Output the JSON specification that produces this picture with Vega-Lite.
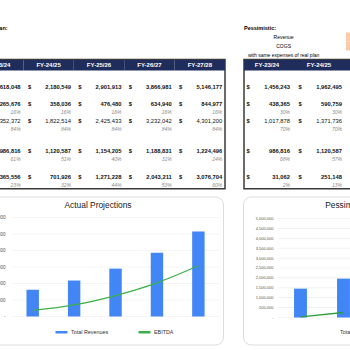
{
  "$schema": "https://vega.github.io/schema/vega-lite/v6.json",
  "padding": {"left": -28, "top": 23.5, "right": -140, "bottom": 0},
  "background": "white",
  "config": {"font": "Liberation Sans", "view": {"stroke": null}},
  "datasets": {
    "actual": [
      {"year": "FY-23/24", "metric": "H", "kind": "header"},
      {"year": "FY-24/25", "metric": "H", "kind": "header"},
      {"year": "FY-25/26", "metric": "H", "kind": "header"},
      {"year": "FY-26/27", "metric": "H", "kind": "header"},
      {"year": "FY-27/28", "metric": "H", "kind": "header"},
      {"year": "FY-23/24", "metric": "Revenue", "kind": "amount", "value": 1618048},
      {"year": "FY-23/24", "metric": "COGS", "kind": "amount", "value": 265676},
      {"year": "FY-23/24", "metric": "COGS %", "kind": "pct", "value": 0.16},
      {"year": "FY-23/24", "metric": "Gross Profit", "kind": "amount", "value": 1352372},
      {"year": "FY-23/24", "metric": "Gross %", "kind": "pct", "value": 0.84},
      {"year": "FY-23/24", "metric": "Operating Expenses", "kind": "amount", "value": 986816},
      {"year": "FY-23/24", "metric": "Operating Expenses %", "kind": "pct", "value": 0.61},
      {"year": "FY-23/24", "metric": "EBITDA", "kind": "amount", "value": 365556},
      {"year": "FY-23/24", "metric": "EBITDA %", "kind": "pct", "value": 0.23},
      {"year": "FY-24/25", "metric": "Revenue", "kind": "amount", "value": 2180549},
      {"year": "FY-24/25", "metric": "COGS", "kind": "amount", "value": 358036},
      {"year": "FY-24/25", "metric": "COGS %", "kind": "pct", "value": 0.16},
      {"year": "FY-24/25", "metric": "Gross Profit", "kind": "amount", "value": 1822514},
      {"year": "FY-24/25", "metric": "Gross %", "kind": "pct", "value": 0.84},
      {"year": "FY-24/25", "metric": "Operating Expenses", "kind": "amount", "value": 1120587},
      {"year": "FY-24/25", "metric": "Operating Expenses %", "kind": "pct", "value": 0.51},
      {"year": "FY-24/25", "metric": "EBITDA", "kind": "amount", "value": 701926},
      {"year": "FY-24/25", "metric": "EBITDA %", "kind": "pct", "value": 0.32},
      {"year": "FY-25/26", "metric": "Revenue", "kind": "amount", "value": 2901913},
      {"year": "FY-25/26", "metric": "COGS", "kind": "amount", "value": 476480},
      {"year": "FY-25/26", "metric": "COGS %", "kind": "pct", "value": 0.16},
      {"year": "FY-25/26", "metric": "Gross Profit", "kind": "amount", "value": 2425433},
      {"year": "FY-25/26", "metric": "Gross %", "kind": "pct", "value": 0.84},
      {"year": "FY-25/26", "metric": "Operating Expenses", "kind": "amount", "value": 1154205},
      {"year": "FY-25/26", "metric": "Operating Expenses %", "kind": "pct", "value": 0.40},
      {"year": "FY-25/26", "metric": "EBITDA", "kind": "amount", "value": 1271228},
      {"year": "FY-25/26", "metric": "EBITDA %", "kind": "pct", "value": 0.44},
      {"year": "FY-26/27", "metric": "Revenue", "kind": "amount", "value": 3866981},
      {"year": "FY-26/27", "metric": "COGS", "kind": "amount", "value": 634940},
      {"year": "FY-26/27", "metric": "COGS %", "kind": "pct", "value": 0.16},
      {"year": "FY-26/27", "metric": "Gross Profit", "kind": "amount", "value": 3232042},
      {"year": "FY-26/27", "metric": "Gross %", "kind": "pct", "value": 0.84},
      {"year": "FY-26/27", "metric": "Operating Expenses", "kind": "amount", "value": 1188831},
      {"year": "FY-26/27", "metric": "Operating Expenses %", "kind": "pct", "value": 0.31},
      {"year": "FY-26/27", "metric": "EBITDA", "kind": "amount", "value": 2043211},
      {"year": "FY-26/27", "metric": "EBITDA %", "kind": "pct", "value": 0.53},
      {"year": "FY-27/28", "metric": "Revenue", "kind": "amount", "value": 5146177},
      {"year": "FY-27/28", "metric": "COGS", "kind": "amount", "value": 844977},
      {"year": "FY-27/28", "metric": "COGS %", "kind": "pct", "value": 0.16},
      {"year": "FY-27/28", "metric": "Gross Profit", "kind": "amount", "value": 4301200},
      {"year": "FY-27/28", "metric": "Gross %", "kind": "pct", "value": 0.84},
      {"year": "FY-27/28", "metric": "Operating Expenses", "kind": "amount", "value": 1224496},
      {"year": "FY-27/28", "metric": "Operating Expenses %", "kind": "pct", "value": 0.24},
      {"year": "FY-27/28", "metric": "EBITDA", "kind": "amount", "value": 3076704},
      {"year": "FY-27/28", "metric": "EBITDA %", "kind": "pct", "value": 0.60}
    ],
    "pessimistic": [
      {"year": "FY-23/24", "metric": "H", "kind": "header"},
      {"year": "FY-24/25", "metric": "H", "kind": "header"},
      {"year": "FY-25/26", "metric": "H", "kind": "header"},
      {"year": "FY-23/24", "metric": "Revenue", "kind": "amount", "value": 1456243},
      {"year": "FY-23/24", "metric": "COGS", "kind": "amount", "value": 438365},
      {"year": "FY-23/24", "metric": "COGS %", "kind": "pct", "value": 0.30},
      {"year": "FY-23/24", "metric": "Gross Profit", "kind": "amount", "value": 1017878},
      {"year": "FY-23/24", "metric": "Gross %", "kind": "pct", "value": 0.70},
      {"year": "FY-23/24", "metric": "Operating Expenses", "kind": "amount", "value": 986816},
      {"year": "FY-23/24", "metric": "Operating Expenses %", "kind": "pct", "value": 0.68},
      {"year": "FY-23/24", "metric": "EBITDA", "kind": "amount", "value": 31062},
      {"year": "FY-23/24", "metric": "EBITDA %", "kind": "pct", "value": 0.02},
      {"year": "FY-24/25", "metric": "Revenue", "kind": "amount", "value": 1962495},
      {"year": "FY-24/25", "metric": "COGS", "kind": "amount", "value": 590759},
      {"year": "FY-24/25", "metric": "COGS %", "kind": "pct", "value": 0.30},
      {"year": "FY-24/25", "metric": "Gross Profit", "kind": "amount", "value": 1371736},
      {"year": "FY-24/25", "metric": "Gross %", "kind": "pct", "value": 0.70},
      {"year": "FY-24/25", "metric": "Operating Expenses", "kind": "amount", "value": 1120587},
      {"year": "FY-24/25", "metric": "Operating Expenses %", "kind": "pct", "value": 0.57},
      {"year": "FY-24/25", "metric": "EBITDA", "kind": "amount", "value": 251148},
      {"year": "FY-24/25", "metric": "EBITDA %", "kind": "pct", "value": 0.13}
    ],
    "notesLeft": [
      {"label": "Real Plan:", "line": "L1", "year": "FY-23/24", "role": "title"}
    ],
    "notesRight": [
      {"label": "Pessimistic:", "line": "L1", "year": "FY-23/24", "role": "title"},
      {"label": "Revenue", "line": "L2", "year": "FY-23/24", "role": "note"},
      {"label": "COGS", "line": "L3", "year": "FY-23/24", "role": "note"},
      {"label": "with same expenses of real plan", "line": "L4", "year": "FY-23/24", "role": "note"},
      {"label": "", "line": "L2", "year": "FY-25/26", "role": "highlight"},
      {"label": "", "line": "L3", "year": "FY-25/26", "role": "highlight"}
    ],
    "gridActual": [{"value": 0}, {"value": 1000000}, {"value": 2000000}, {"value": 3000000}, {"value": 4000000}, {"value": 5000000}, {"value": 6000000}],
    "gridPess": [{"value": 0}, {"value": 500000}, {"value": 1000000}, {"value": 1500000}, {"value": 2000000}, {"value": 2500000}, {"value": 3000000}, {"value": 3500000}, {"value": 4000000}, {"value": 4500000}, {"value": 5000000}]
  },
  "resolve": {"scale": {"x": "independent", "y": "independent"}, "legend": {"color": "independent"}},
  "spacing": 5,
  "vconcat": [
    {
      "spacing": -2.8,
      "resolve": {"scale": {"x": "independent", "y": "independent"}},
      "vconcat": [
        {
          "spacing": 17,
          "resolve": {"scale": {"x": "independent", "y": "independent"}},
          "hconcat": [
            {
              "width": 252, "height": 36,
              "data": {"name": "notesLeft"},
              "mark": {"type": "text", "align": "left", "baseline": "middle", "fontWeight": "bold", "fontSize": 5.5, "dx": 8, "color": "#000"},
              "encoding": {
                "x": {"field": "year", "type": "nominal", "bandPosition": 0, "scale": {"type": "band", "domain": ["FY-23/24", "FY-24/25", "FY-25/26", "FY-26/27", "FY-27/28"], "paddingInner": 0, "paddingOuter": 0}, "axis": null},
                "y": {"field": "line", "type": "nominal", "scale": {"type": "band", "domain": ["L1", "L2", "L3", "L4"], "paddingInner": 0, "paddingOuter": 0}, "axis": null},
                "text": {"field": "label"}
              }
            },
            {
              "width": 156, "height": 36,
              "data": {"name": "notesRight"},
              "encoding": {
                "x": {"field": "year", "type": "nominal", "scale": {"type": "band", "domain": ["FY-23/24", "FY-24/25", "FY-25/26"], "paddingInner": 0, "paddingOuter": 0}, "axis": null},
                "y": {"field": "line", "type": "nominal", "scale": {"type": "band", "domain": ["L1", "L2", "L3", "L4"], "paddingInner": 0, "paddingOuter": 0}, "axis": null}
              },
              "layer": [
                {"transform": [{"filter": "datum.role == 'highlight'"}], "mark": {"type": "rect", "color": "#F8CBAD"}},
                {"transform": [{"filter": "datum.role == 'title'"}], "mark": {"type": "text", "align": "left", "baseline": "middle", "fontWeight": "bold", "fontSize": 5.5, "dx": 2, "color": "#000"},
                 "encoding": {"x": {"field": "year", "type": "nominal", "bandPosition": 0, "scale": {"type": "band"}, "axis": null}, "text": {"field": "label"}}},
                {"transform": [{"filter": "datum.role == 'note'"}], "mark": {"type": "text", "align": "center", "baseline": "middle", "fontSize": 5, "color": "#000"},
                 "encoding": {"x": {"field": "year", "type": "nominal", "bandPosition": 0.8, "scale": {"type": "band"}, "axis": null}, "text": {"field": "label"}}}
              ]
            }
          ]
        },
        {
          "spacing": 17,
          "resolve": {"scale": {"x": "independent", "y": "independent"}},
          "hconcat": [
            {
              "width": 252, "height": 129.3,
              "view": {"stroke": "#3a3a3a", "strokeWidth": 1.5},
              "data": {"name": "actual"},
              "encoding": {
                "x": {"field": "year", "type": "nominal", "scale": {"type": "band", "domain": ["FY-23/24", "FY-24/25", "FY-25/26", "FY-26/27", "FY-27/28"], "paddingInner": 0, "paddingOuter": 0}, "axis": null},
                "y": {"field": "metric", "type": "nominal", "scale": {"type": "band", "domain": ["H", "s1", "s2", "s3", "s4", "Revenue", "s6", "s7", "s8", "COGS", "s10", "COGS %", "s12", "Gross Profit", "s14", "Gross %", "s16", "s17", "s18", "s19", "Operating Expenses", "s21", "Operating Expenses %", "s23", "s24", "s25", "EBITDA", "s27", "EBITDA %"], "paddingInner": 0, "paddingOuter": 0.6, "align": 0.7}, "axis": null}
              },
              "layer": [
                {"transform": [{"filter": "datum.kind == 'header'"}], "mark": {"type": "rect", "color": "#1F2D5C", "height": {"band": 2.5}}},
                {"transform": [{"filter": "datum.kind == 'header'"}], "mark": {"type": "text", "color": "white", "fontWeight": "bold", "fontSize": 6, "baseline": "middle"}, "encoding": {"text": {"field": "year"}}},
                {"transform": [{"filter": "datum.kind == 'amount'"}], "mark": {"type": "text", "align": "left", "baseline": "middle", "dx": 4.5, "fontWeight": "bold", "fontSize": 5.8, "color": "#111"},
                 "encoding": {"x": {"field": "year", "type": "nominal", "bandPosition": 0, "scale": {"type": "band"}, "axis": null}, "text": {"value": "$"}}},
                {"transform": [{"filter": "datum.kind == 'amount' && datum.metric != 'Gross Profit'"}], "mark": {"type": "text", "align": "right", "baseline": "middle", "dx": -2.8, "fontWeight": "bold", "fontSize": 5.8, "color": "#111"},
                 "encoding": {"x": {"field": "year", "type": "nominal", "bandPosition": 1, "scale": {"type": "band"}, "axis": null}, "text": {"field": "value", "type": "quantitative", "format": ",.0f"}}},
                {"transform": [{"filter": "datum.metric == 'Gross Profit'"}], "mark": {"type": "text", "align": "right", "baseline": "middle", "dx": -2.8, "fontSize": 5.8, "color": "#111"},
                 "encoding": {"x": {"field": "year", "type": "nominal", "bandPosition": 1, "scale": {"type": "band"}, "axis": null}, "text": {"field": "value", "type": "quantitative", "format": ",.0f"}}},
                {"transform": [{"filter": "datum.kind == 'pct'"}], "mark": {"type": "text", "align": "right", "baseline": "middle", "dx": -2.8, "fontSize": 5, "fontStyle": "italic", "color": "#8c8c8c"},
                 "encoding": {"x": {"field": "year", "type": "nominal", "bandPosition": 1, "scale": {"type": "band"}, "axis": null}, "text": {"field": "value", "type": "quantitative", "format": ".0%"}}}
              ]
            },
            {
              "width": 156, "height": 129.3,
              "view": {"stroke": "#3a3a3a", "strokeWidth": 1.5},
              "data": {"name": "pessimistic"},
              "encoding": {
                "x": {"field": "year", "type": "nominal", "scale": {"type": "band", "domain": ["FY-23/24", "FY-24/25", "FY-25/26"], "paddingInner": 0, "paddingOuter": 0}, "axis": null},
                "y": {"field": "metric", "type": "nominal", "scale": {"type": "band", "domain": ["H", "s1", "s2", "s3", "s4", "Revenue", "s6", "s7", "s8", "COGS", "s10", "COGS %", "s12", "Gross Profit", "s14", "Gross %", "s16", "s17", "s18", "s19", "Operating Expenses", "s21", "Operating Expenses %", "s23", "s24", "s25", "EBITDA", "s27", "EBITDA %"], "paddingInner": 0, "paddingOuter": 0.6, "align": 0.7}, "axis": null}
              },
              "layer": [
                {"transform": [{"filter": "datum.kind == 'header'"}], "mark": {"type": "rect", "color": "#1F2D5C", "height": {"band": 2.5}}},
                {"transform": [{"filter": "datum.kind == 'header'"}], "mark": {"type": "text", "color": "white", "fontWeight": "bold", "fontSize": 6, "baseline": "middle", "dx": -3}, "encoding": {"text": {"field": "year"}}},
                {"transform": [{"filter": "datum.kind == 'amount'"}], "mark": {"type": "text", "align": "left", "baseline": "middle", "dx": 2.5, "fontWeight": "bold", "fontSize": 5.8, "color": "#111"},
                 "encoding": {"x": {"field": "year", "type": "nominal", "bandPosition": 0, "scale": {"type": "band"}, "axis": null}, "text": {"value": "$"}}},
                {"transform": [{"filter": "datum.kind == 'amount' && datum.metric != 'Gross Profit'"}], "mark": {"type": "text", "align": "right", "baseline": "middle", "dx": -6, "fontWeight": "bold", "fontSize": 5.8, "color": "#111"},
                 "encoding": {"x": {"field": "year", "type": "nominal", "bandPosition": 1, "scale": {"type": "band"}, "axis": null}, "text": {"field": "value", "type": "quantitative", "format": ",.0f"}}},
                {"transform": [{"filter": "datum.metric == 'Gross Profit'"}], "mark": {"type": "text", "align": "right", "baseline": "middle", "dx": -6, "fontSize": 5.8, "color": "#111"},
                 "encoding": {"x": {"field": "year", "type": "nominal", "bandPosition": 1, "scale": {"type": "band"}, "axis": null}, "text": {"field": "value", "type": "quantitative", "format": ",.0f"}}},
                {"transform": [{"filter": "datum.kind == 'pct'"}], "mark": {"type": "text", "align": "right", "baseline": "middle", "dx": -6, "fontSize": 5, "fontStyle": "italic", "color": "#8c8c8c"},
                 "encoding": {"x": {"field": "year", "type": "nominal", "bandPosition": 1, "scale": {"type": "band"}, "axis": null}, "text": {"field": "value", "type": "quantitative", "format": ".0%"}}}
              ]
            }
          ]
        }
      ]
    },
    {
      "spacing": 18,
      "resolve": {"scale": {"x": "independent", "y": "independent"}, "legend": {"color": "independent"}},
      "hconcat": [
        {
          "width": 250, "height": 148,
          "view": {"stroke": "#dadce0", "strokeWidth": 1, "cornerRadius": 8, "fill": "white"},
          "title": {"text": "Actual Projections", "fontSize": 8.4, "fontWeight": "normal", "color": "#202124", "offset": -13, "anchor": "middle"},
          "data": {"name": "actual"},
          "encoding": {
            "x": {"field": "year", "type": "nominal", "scale": {"type": "band", "domain": ["FY-23/24", "FY-24/25", "FY-25/26", "FY-26/27", "FY-27/28"], "paddingInner": 0.7, "paddingOuter": 0.868, "align": 0.744},
                  "axis": {"orient": "bottom", "offset": -28, "domain": false, "ticks": false, "labelPadding": 2.5, "labelFontSize": 5.2, "labelColor": "#444", "title": null, "labelAngle": 0}},
            "y": {"field": "value", "type": "quantitative", "scale": {"domain": [-1697000, 7273000], "nice": false, "zero": false},
                  "axis": {"values": [0, 1000000, 2000000, 3000000, 4000000, 5000000, 6000000], "grid": false, "domain": false, "ticks": false, "offset": -36, "labelPadding": 4, "labelFontSize": 4.5, "labelColor": "#555", "title": null, "labelExpr": "datum.value == 0 ? '-' : format(datum.value, ',')"}}
          },
          "layer": [
            {"data": {"name": "gridActual"}, "mark": {"type": "tick", "orient": "horizontal", "size": 207, "thickness": 0.7, "color": "#e3e3e3"},
             "encoding": {"x": {"datum": "FY-25/26", "type": "nominal", "axis": null}}},
            {"transform": [{"filter": "datum.metric == 'Revenue'"}], "mark": {"type": "bar"},
             "encoding": {"color": {"field": "metric", "type": "nominal", "scale": {"domain": ["Revenue", "EBITDA"], "range": ["#4285F4", "#3DB049"]},
               "legend": {"orient": "none", "legendX": 81, "legendY": 128, "direction": "horizontal", "title": null, "symbolType": "stroke", "symbolSize": 144, "symbolStrokeWidth": 2.5, "labelFontSize": 5.4, "labelColor": "#333", "columnPadding": 24, "labelOffset": 2, "labelExpr": "datum.label == 'Revenue' ? 'Total Revenues' : datum.label"}}}},
            {"transform": [{"filter": "datum.metric == 'EBITDA'"}], "mark": {"type": "line", "interpolate": "monotone", "strokeWidth": 1.3},
             "encoding": {"color": {"field": "metric", "type": "nominal"}}}
          ]
        },
        {
          "width": 250, "height": 148,
          "view": {"stroke": "#dadce0", "strokeWidth": 1, "cornerRadius": 8, "fill": "white"},
          "title": {"text": "Pessimistic Projections", "fontSize": 8.4, "fontWeight": "normal", "color": "#202124", "offset": -13, "anchor": "middle"},
          "data": {"name": "pessimistic"},
          "encoding": {
            "x": {"field": "year", "type": "nominal", "scale": {"type": "band", "domain": ["FY-23/24", "FY-24/25", "FY-25/26", "FY-26/27", "FY-27/28"], "paddingInner": 0.7, "paddingOuter": 0.757, "align": 0.784},
                  "axis": {"orient": "bottom", "offset": -27, "domain": false, "ticks": false, "labelPadding": 2.5, "labelFontSize": 5.2, "labelColor": "#444", "title": null, "labelAngle": 0}},
            "y": {"field": "value", "type": "quantitative", "scale": {"domain": [-1364000, 6111000], "nice": false, "zero": false},
                  "axis": {"values": [0, 500000, 1000000, 1500000, 2000000, 2500000, 3000000, 3500000, 4000000, 4500000, 5000000], "grid": false, "domain": false, "ticks": false, "offset": -34, "labelPadding": 4, "labelFontSize": 4, "labelColor": "#555", "title": null, "labelExpr": "datum.value == 0 ? '-' : format(datum.value, ',')"}}
          },
          "layer": [
            {"data": {"name": "gridPess"}, "mark": {"type": "tick", "orient": "horizontal", "size": 216, "thickness": 0.7, "color": "#e3e3e3"},
             "encoding": {"x": {"datum": "FY-25/26", "type": "nominal", "axis": null}}},
            {"transform": [{"filter": "datum.metric == 'Revenue'"}], "mark": {"type": "bar"},
             "encoding": {"color": {"field": "metric", "type": "nominal", "scale": {"domain": ["Revenue", "EBITDA"], "range": ["#4285F4", "#3DB049"]},
               "legend": {"orient": "none", "legendX": 80, "legendY": 128, "direction": "horizontal", "title": null, "symbolType": "stroke", "symbolSize": 144, "symbolStrokeWidth": 2.5, "labelFontSize": 5.4, "labelColor": "#333", "columnPadding": 24, "labelOffset": 2, "labelExpr": "datum.label == 'Revenue' ? 'Total Revenues' : datum.label"}}}},
            {"transform": [{"filter": "datum.metric == 'EBITDA'"}], "mark": {"type": "line", "interpolate": "monotone", "strokeWidth": 1.3, "color": "#2E9E3E"}}
          ]
        }
      ]
    }
  ]
}
